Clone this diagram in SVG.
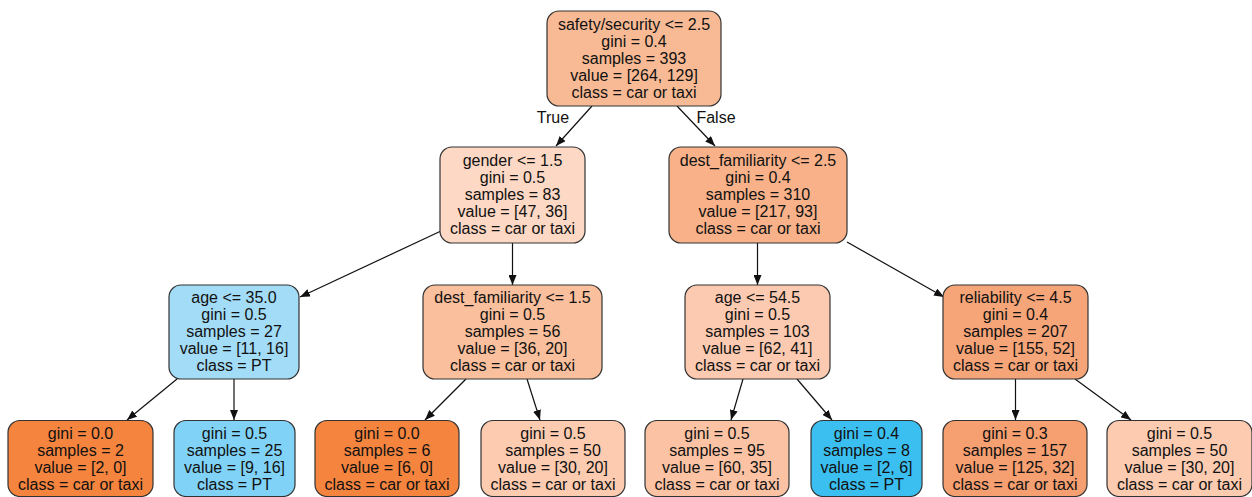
<svg xmlns="http://www.w3.org/2000/svg" width="1252" height="497" viewBox="0 0 1252 497">
<style>
.n{stroke:#333;stroke-width:1.2}
text{font-family:"Liberation Sans",Arial,sans-serif;font-size:16px;fill:#111;text-anchor:middle}
.e{stroke:#111;stroke-width:1.2;fill:none;marker-end:url(#ah)}
</style>
<defs>
<marker id="ah" markerUnits="userSpaceOnUse" markerWidth="11" markerHeight="8" refX="10" refY="4" orient="auto">
<path d="M0,0 L10,4 L0,8 z" fill="#111"/>
</marker>
</defs>
<rect width="1252" height="497" fill="#fff"/>
<g id="edges">
<line class="e" x1="592" y1="106" x2="556" y2="146"/>
<line class="e" x1="677" y1="106" x2="715" y2="146"/>
<line class="e" x1="441" y1="231" x2="300" y2="297"/>
<line class="e" x1="512.5" y1="243" x2="512.5" y2="285"/>
<line class="e" x1="757.5" y1="243" x2="757.5" y2="285"/>
<line class="e" x1="847" y1="242" x2="944" y2="297"/>
<line class="e" x1="177" y1="379" x2="127" y2="420"/>
<line class="e" x1="234" y1="379" x2="234" y2="420"/>
<line class="e" x1="466" y1="379" x2="425" y2="420"/>
<line class="e" x1="527" y1="379" x2="540" y2="420"/>
<line class="e" x1="743" y1="379" x2="731" y2="420"/>
<line class="e" x1="797" y1="379" x2="832" y2="420"/>
<line class="e" x1="1015.5" y1="379" x2="1015.5" y2="420"/>
<line class="e" x1="1075" y1="379" x2="1131" y2="420"/>
<text x="553" y="123">True</text>
<text x="716" y="123">False</text>
</g>
<g id="n0">
<rect class="n" x="547" y="11" width="174" height="95" rx="12" fill="#f8ba94"/>
<text x="634" y="30">safety/security &lt;= 2.5</text>
<text x="634" y="47">gini = 0.4</text>
<text x="634" y="64">samples = 393</text>
<text x="634" y="81">value = [264, 129]</text>
<text x="634" y="98">class = car or taxi</text>
</g>
<g id="n1">
<rect class="n" x="440" y="147" width="145" height="96" rx="12" fill="#fdd8c4"/>
<text x="512.5" y="166">gender &lt;= 1.5</text>
<text x="512.5" y="183">gini = 0.5</text>
<text x="512.5" y="200">samples = 83</text>
<text x="512.5" y="217">value = [47, 36]</text>
<text x="512.5" y="234">class = car or taxi</text>
</g>
<g id="n2">
<rect class="n" x="669" y="147" width="178" height="96" rx="12" fill="#f8b189"/>
<text x="758" y="166">dest_familiarity &lt;= 2.5</text>
<text x="758" y="183">gini = 0.4</text>
<text x="758" y="200">samples = 310</text>
<text x="758" y="217">value = [217, 93]</text>
<text x="758" y="234">class = car or taxi</text>
</g>
<g id="n3">
<rect class="n" x="169" y="285" width="130" height="94" rx="12" fill="#a3dcf7"/>
<text x="234" y="303">age &lt;= 35.0</text>
<text x="234" y="320">gini = 0.5</text>
<text x="234" y="337">samples = 27</text>
<text x="234" y="354">value = [11, 16]</text>
<text x="234" y="371">class = PT</text>
</g>
<g id="n4">
<rect class="n" x="423" y="285" width="179" height="94" rx="12" fill="#fabf9c"/>
<text x="512.5" y="303">dest_familiarity &lt;= 1.5</text>
<text x="512.5" y="320">gini = 0.5</text>
<text x="512.5" y="337">samples = 56</text>
<text x="512.5" y="354">value = [36, 20]</text>
<text x="512.5" y="371">class = car or taxi</text>
</g>
<g id="n5">
<rect class="n" x="685" y="285" width="145" height="94" rx="12" fill="#fccab0"/>
<text x="757.5" y="303">age &lt;= 54.5</text>
<text x="757.5" y="320">gini = 0.5</text>
<text x="757.5" y="337">samples = 103</text>
<text x="757.5" y="354">value = [62, 41]</text>
<text x="757.5" y="371">class = car or taxi</text>
</g>
<g id="n6">
<rect class="n" x="943" y="285" width="145" height="94" rx="12" fill="#f6a579"/>
<text x="1015.5" y="303">reliability &lt;= 4.5</text>
<text x="1015.5" y="320">gini = 0.4</text>
<text x="1015.5" y="337">samples = 207</text>
<text x="1015.5" y="354">value = [155, 52]</text>
<text x="1015.5" y="371">class = car or taxi</text>
</g>
<g id="n7">
<rect class="n" x="8" y="420.5" width="145" height="76" rx="12" fill="#f5843f"/>
<text x="80.5" y="439">gini = 0.0</text>
<text x="80.5" y="456">samples = 2</text>
<text x="80.5" y="473">value = [2, 0]</text>
<text x="80.5" y="490">class = car or taxi</text>
</g>
<g id="n8">
<rect class="n" x="174" y="420.5" width="121" height="76" rx="12" fill="#80d3f7"/>
<text x="234.5" y="439">gini = 0.5</text>
<text x="234.5" y="456">samples = 25</text>
<text x="234.5" y="473">value = [9, 16]</text>
<text x="234.5" y="490">class = PT</text>
</g>
<g id="n9">
<rect class="n" x="315" y="420.5" width="144" height="76" rx="12" fill="#f5843f"/>
<text x="387" y="439">gini = 0.0</text>
<text x="387" y="456">samples = 6</text>
<text x="387" y="473">value = [6, 0]</text>
<text x="387" y="490">class = car or taxi</text>
</g>
<g id="n10">
<rect class="n" x="481" y="420.5" width="144" height="76" rx="12" fill="#fccbb0"/>
<text x="553" y="439">gini = 0.5</text>
<text x="553" y="456">samples = 50</text>
<text x="553" y="473">value = [30, 20]</text>
<text x="553" y="490">class = car or taxi</text>
</g>
<g id="n11">
<rect class="n" x="645" y="420.5" width="144" height="76" rx="12" fill="#fbc3a4"/>
<text x="717" y="439">gini = 0.5</text>
<text x="717" y="456">samples = 95</text>
<text x="717" y="473">value = [60, 35]</text>
<text x="717" y="490">class = car or taxi</text>
</g>
<g id="n12">
<rect class="n" x="811" y="420.5" width="111" height="76" rx="12" fill="#3bbff0"/>
<text x="866.5" y="439">gini = 0.4</text>
<text x="866.5" y="456">samples = 8</text>
<text x="866.5" y="473">value = [2, 6]</text>
<text x="866.5" y="490">class = PT</text>
</g>
<g id="n13">
<rect class="n" x="943" y="420.5" width="144" height="76" rx="12" fill="#f69f70"/>
<text x="1015" y="439">gini = 0.3</text>
<text x="1015" y="456">samples = 157</text>
<text x="1015" y="473">value = [125, 32]</text>
<text x="1015" y="490">class = car or taxi</text>
</g>
<g id="n14">
<rect class="n" x="1107" y="420.5" width="145" height="76" rx="12" fill="#fccbb0"/>
<text x="1179.5" y="439">gini = 0.5</text>
<text x="1179.5" y="456">samples = 50</text>
<text x="1179.5" y="473">value = [30, 20]</text>
<text x="1179.5" y="490">class = car or taxi</text>
</g>
</svg>
